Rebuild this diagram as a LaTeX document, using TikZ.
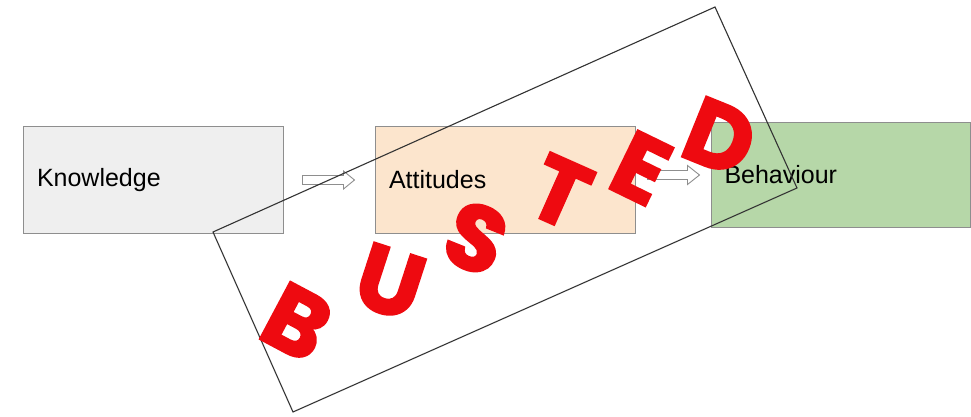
\documentclass[tikz,border=0pt]{standalone}
\usepackage{fontspec}
\setmainfont{Liberation Sans}
\newfontfamily\stampfont[FakeBold=2.5]{Poppins}
\usetikzlibrary{calc}
\definecolor{kfill}{HTML}{EFEFEF}
\definecolor{afill}{HTML}{FCE5CD}
\definecolor{bfill}{HTML}{B6D7A8}
\definecolor{boxline}{HTML}{8E8E8E}
\definecolor{stampred}{HTML}{EE0A10}
\definecolor{stampline}{HTML}{333333}
\tikzset{
  box/.style={draw=boxline, line width=1pt, minimum width=260pt, minimum height=106pt,
    text width=232pt, align=left, inner sep=0pt, font=\fontsize{25}{30}\selectfont},
  hollow/.style={draw=boxline, fill=white, line width=0.9pt, line join=miter},
  stampframe/.style={draw=stampline, line width=1.1pt, line join=miter},
  letter/.style={text=stampred, font=\stampfont\bfseries\fontsize{92}{92}\selectfont, inner sep=0pt}
}
\begin{document}
\begin{tikzpicture}[x=1pt,y=-1pt]
\useasboundingbox[fill=white] (0,0) rectangle (971,417);
\node[box, fill=kfill] (k) at (153,180) {Knowledge};
\node[box, fill=afill] (a) at (505,180) {Attitudes};
\node[box, fill=bfill, minimum width=259pt, minimum height=104pt] (b) at (840.5,175) {Behaviour};
% hollow block arrows, from node to node
\draw[hollow] let \p1=($(k.east)+(19,0)$), \p2=($(a.west)+(-20,0)$) in
  (\x1,\y1+4.5pt) -- (\x2-11pt,\y1+4.5pt) -- (\x2-11pt,\y1+9pt) -- (\x2,\y1)
  -- (\x2-11pt,\y1-9pt) -- (\x2-11pt,\y1-4.5pt) -- (\x1,\y1-4.5pt) -- cycle;
\draw[hollow] let \p1=($(a.east |- b.west)+(12,0)$), \p2=($(b.west)+(-11,0)$) in
  (\x1,\y1+4.5pt) -- (\x2-12pt,\y1+4.5pt) -- (\x2-12pt,\y1+9.5pt) -- (\x2,\y1)
  -- (\x2-12pt,\y1-9.5pt) -- (\x2-12pt,\y1-4.5pt) -- (\x1,\y1-4.5pt) -- cycle;
\coordinate (s1) at (715,7);
\coordinate (s2) at (797,188);
\coordinate (s3) at (293,412);
\coordinate (s4) at (213,232);
\draw[stampframe] (s1) -- (s2) -- (s3) -- (s4) -- cycle;
\node[letter, rotate=-28] (lb) at (297,322) {B};
\node[letter, rotate=-18] (lu) at (390,282) {U};
\node[letter, rotate=-22] (ls) at (476,238) {S};
\node[letter, rotate=-24] (lt) at (560,192) {T};
\node[letter, rotate=-26] (le) at (641,168) {E};
\node[letter, rotate=-22] (ld) at (720,137) {D};
\end{tikzpicture}
\end{document}
